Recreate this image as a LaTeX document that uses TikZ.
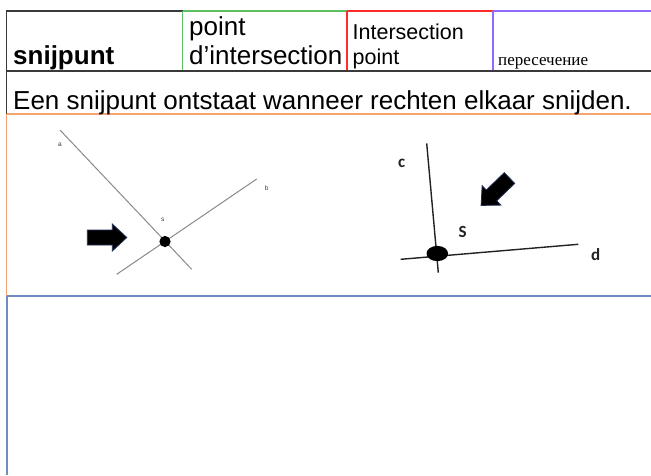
\documentclass[tikz,border=0pt]{standalone}
\usepackage{fontspec}
\setmainfont{Liberation Sans}
\newfontfamily\serifcyr{Liberation Serif}
\newfontfamily\calib{Carlito}
\definecolor{tdark}{HTML}{3A3A3A}
\definecolor{tgreen}{HTML}{5CC062}
\definecolor{tred}{HTML}{FF2B2B}
\definecolor{tpurple}{HTML}{8F6BFF}
\definecolor{torange}{HTML}{F4A470}
\definecolor{tblue}{HTML}{6F8CC2}
\definecolor{arrowedge}{HTML}{1F2F55}
\definecolor{lgray}{HTML}{8A8A8A}
\definecolor{figdark}{HTML}{222222}
\tikzset{
  txt/.style={inner sep=0pt, anchor=base west, text=black},
  rule/.style={line width=1.5pt},
  thinline/.style={draw=lgray, line width=1pt},
  darkline/.style={draw=figdark, line width=1.4pt},
  tiny/.style={inner sep=0pt, font=\fontsize{6.5}{7}\selectfont, text=tdark},
  clabel/.style={inner sep=0pt, font=\calib\bfseries\fontsize{17}{20}\selectfont, text=figdark},
  blkarrow/.pic={\draw[draw=arrowedge, fill=black, line width=0.8pt, line join=miter]
     (0,-7.5) -- (25,-7.5) -- (25,-13.5) -- (39.5,0) -- (25,13.5) -- (25,7.5) -- (0,7.5) -- cycle;}
}
\begin{document}
\begin{tikzpicture}[x=1pt,y=-1pt]
\useasboundingbox[fill=white] (0,0) rectangle (651,475);
% table rules
\draw[rule, tdark] (6.7,11) -- (182.5,11);
\draw[rule, tgreen] (182.5,11) -- (347,11);
\draw[rule, tred] (347,11) -- (493,11);
\draw[rule, tpurple] (493,11) -- (651,11);
\draw[rule, tgreen] (182.5,11) -- (182.5,71);
\draw[rule, tred] (347,11) -- (347,71);
\draw[rule, tpurple] (493,11) -- (493,71);
\draw[rule, tdark] (6.7,71) -- (651,71);
\draw[rule, tdark] (6.7,10.25) -- (6.7,114);
\draw[rule, torange] (6.7,114) -- (651,114);
\draw[rule, torange] (6.7,114) -- (6.7,296);
\draw[line width=2pt, tblue] (6.7,296) -- (651,296);
\draw[line width=2pt, tblue] (6.7,296) -- (6.7,475);
% header texts
\node[txt, font=\bfseries\fontsize{26}{29}\selectfont] (w1) at (13,64.5) {snijpunt};
\node[txt, font=\fontsize{26}{29}\selectfont] (w2a) at (189,35) {point};
\node[txt, font=\fontsize{26}{29}\selectfont] (w2b) at (189,64.5) {d’intersection};
\node[txt, font=\fontsize{21.5}{25}\selectfont] (w3a) at (352.5,39.5) {Intersection};
\node[txt, font=\fontsize{21.5}{25}\selectfont] (w3b) at (352.5,64.5) {point};
\node[txt, font=\serifcyr\fontsize{17}{20}\selectfont] (w4) at (498,65.5) {пересечение};
\node[txt, font=\fontsize{26}{29}\selectfont] (def) at (13,109.3) {Een snijpunt ontstaat wanneer rechten elkaar snijden.};
% left figure
\coordinate (a1) at (60,130);
\coordinate (a2) at (191.7,269.3);
\coordinate (b1) at (116.7,274.3);
\coordinate (b2) at (256.7,179);
\draw[thinline] (a1) -- (a2);
\draw[thinline] (b1) -- (b2);
\fill[black] (165,241.5) circle (5.6);
\node[tiny] (la) at (60,144.3) {a};
\node[tiny] (lb) at (266.7,187.7) {b};
\node[tiny] (ls) at (162.7,219.3) {s};
\pic at (87.3,237.5) {blkarrow};
% right figure
\coordinate (c1) at (426.7,143.3);
\coordinate (c2) at (438.3,272.7);
\coordinate (d1) at (400.7,259.3);
\coordinate (d2) at (578.3,244.3);
\draw[darkline] (c1) -- (c2);
\draw[darkline] (d1) -- (d2);
\fill[black] (437.3,253.5) ellipse [x radius=10.8, y radius=7.6];
\node[clabel] (lc) at (401.7,163.3) {c};
\node[clabel] (lS) at (462.7,231.7) {S};
\node[clabel] (ld) at (595.7,255) {d};
\pic[rotate=224] at (509.5,178) {blkarrow};
\end{tikzpicture}
\end{document}
